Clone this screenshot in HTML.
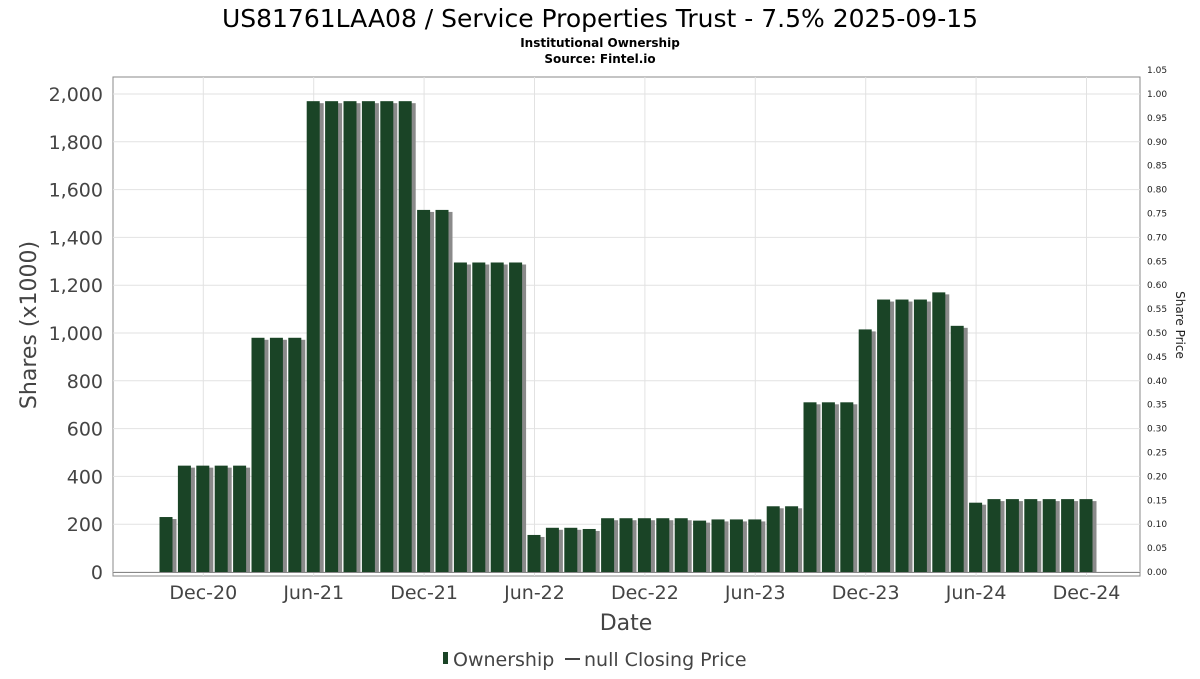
<!DOCTYPE html>
<html><head><meta charset="utf-8"><style>
body{margin:0;background:#fff;font-family:"DejaVu Sans","Liberation Sans",sans-serif}
</style></head><body>
<svg id="c" width="1200" height="675" xmlns="http://www.w3.org/2000/svg">
<text x="600" y="27" text-anchor="middle" font-size="25" fill="#000">US81761LAA08 / Service Properties Trust - 7.5% 2025-09-15</text>
<text x="600" y="47" text-anchor="middle" font-size="12" font-weight="bold">Institutional Ownership</text>
<text x="600" y="63" text-anchor="middle" font-size="12" font-weight="bold">Source: Fintel.io</text>
<rect x="113" y="77" width="1027" height="499" fill="#fff" stroke="#888"/>
<g id="grid"></g><g id="bars"></g><g id="axes"></g>
<text x="36" y="325" transform="rotate(-90 36 325)" text-anchor="middle" font-size="22" fill="#444">Shares (x1000)</text>
<text x="1176" y="325" transform="rotate(90 1176 325)" text-anchor="middle" font-size="12" fill="#222">Share Price</text>
<text x="626" y="630" text-anchor="middle" font-size="22" fill="#444">Date</text>
<g>
<rect x="443" y="652" width="5" height="12" fill="#1a4426"/>
<text x="453" y="666" font-size="19" fill="#444">Ownership</text>
<line x1="565" y1="659" x2="580" y2="659" stroke="#444" stroke-width="2"/>
<text x="584" y="666" font-size="19" fill="#444">null Closing Price</text>
</g>
</svg>
<script>
const shares=[230,445,445,445,445,980,980,980,1970,1970,1970,1970,1970,1970,1515,1515,1295,1295,1295,1295,155,185,185,180,225,225,225,225,225,215,220,220,220,275,275,710,710,710,1015,1140,1140,1140,1170,1030,290,305,305,305,305,305,305];
const yTicks=[0,200,400,600,800,1000,1200,1400,1600,1800,2000];
const xTickLabels=["Dec-20","Jun-21","Dec-21","Jun-22","Dec-22","Jun-23","Dec-23","Jun-24","Dec-24"];
const xTickMonth=[2,8,14,20,26,32,38,44,50];
const y2Ticks=[0,0.05,0.1,0.15,0.2,0.25,0.3,0.35,0.4,0.45,0.5,0.55,0.6,0.65,0.7,0.75,0.8,0.85,0.9,0.95,1.0,1.05];
const NS="http://www.w3.org/2000/svg";
const y=v=>572-v*(478/2000);
const y2=v=>572-v*(478/1.0);
const x=i=>166.5+i*18.4;
function mk(t,a,p){const e=document.createElementNS(NS,t);for(const k in a)e.setAttribute(k,a[k]);p.appendChild(e);return e;}
const grid=document.getElementById('grid'),bars=document.getElementById('bars'),axes=document.getElementById('axes');
yTicks.forEach(v=>{
 const l=mk('line',{x1:113,x2:1140,y1:y(v),y2:y(v),stroke:'#e2e2e2'},grid);
 
 
 const t=mk('text',{x:103,y:y(v)+7,'text-anchor':'end','font-size':19,fill:'#444'},axes);
 t.textContent=v.toLocaleString('en-US');
 
 
});
xTickMonth.forEach((m,i)=>{
 const l=mk('line',{x1:x(m),x2:x(m),y1:77,y2:576,stroke:'#e2e2e2'},grid);
 
 
 const t=mk('text',{x:x(m),y:599,'text-anchor':'middle','font-size':19,fill:'#444'},axes);
 t.textContent=xTickLabels[i];
 
 
});
y2Ticks.forEach(v=>{
 const t=mk('text',{x:1147,y:y2(v)+3,'font-size':9,fill:'#222'},axes);
 t.textContent=v.toFixed(2);
 
 
});
const al=mk('line',{x1:113,x2:1140,y1:572.5,y2:572.5,stroke:'#888'},axes);


shares.forEach((v,i)=>{
 const s=mk('rect',{x:x(i)-7+3,y:y(v)+2,width:14,height:572-y(v)-2,fill:'#8a8a8a'},bars);
 
 
 const b=mk('rect',{x:x(i)-7,y:y(v),width:13,height:572-y(v),fill:'#1a4426'},bars);
 
 
});
</script>
</body></html>
